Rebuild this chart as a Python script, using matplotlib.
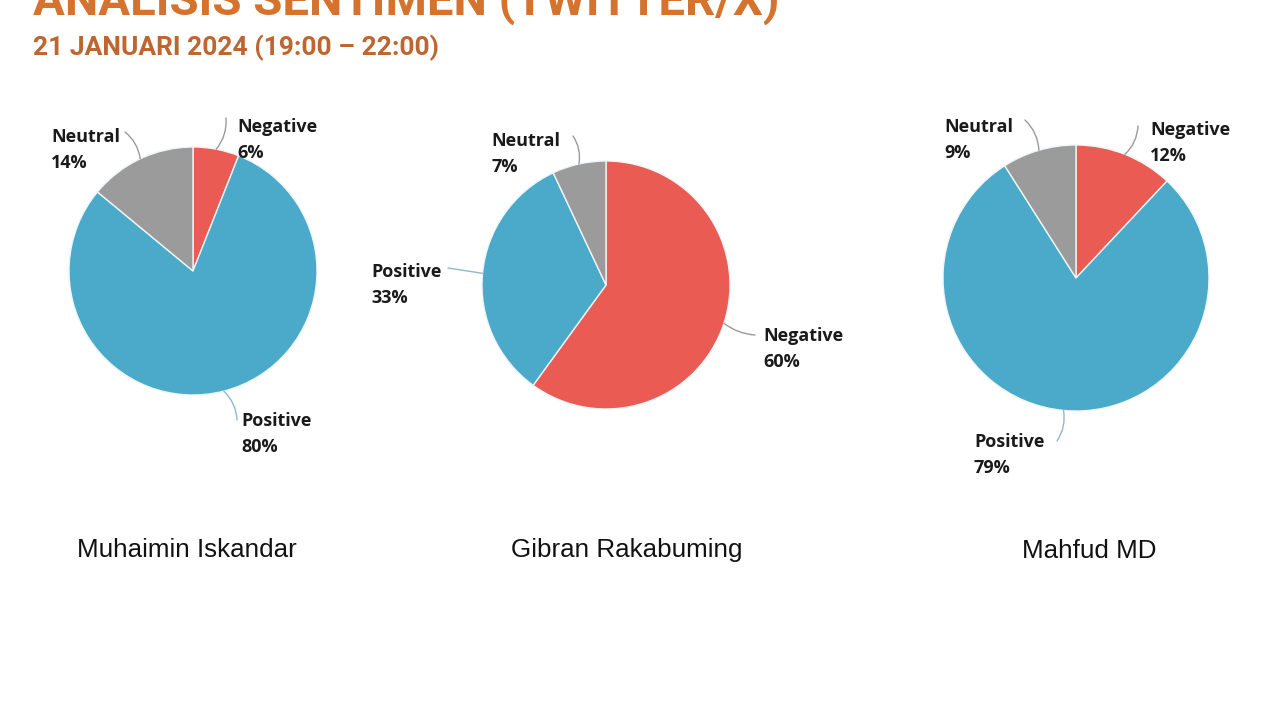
import numpy as np
import matplotlib
matplotlib.use("Agg")
import matplotlib.pyplot as plt

# ---- data ----
title = "ANALISIS SENTIMEN (TWITTER/X)"
subtitle = "21 JANUARI 2024 (19:00 \u2013 22:00)"
names = ["Muhaimin Iskandar", "Gibran Rakabuming", "Mahfud MD"]
categories = ["Negative", "Positive", "Neutral"]
negative = [6, 60, 12]
positive = [80, 33, 79]
neutral = [14, 7, 9]

# ---- style / layout ----
colors = ["#EA5B53", "#4BA9C9", "#9B9B9B"]
W, H = 1280, 720
centers = [(193, 271), (606, 285), (1076, 278)]
radii = [124, 124, 133]
name_pos = [(187, 550), (627, 550), (1089, 551)]
# label anchors (left x, top y) and leader end points, per pie per category
label_xy = [
    [(237, 118), (241, 412), (51, 128)],
    [(763, 327), (371, 263), (491, 132)],
    [(1150, 121), (974, 433), (944, 118)],
]
leader_end = [
    [(226, 118), (237, 420), (125, 132)],
    [(755, 335), (448, 268), (573, 136)],
    [(1138, 126), (1057, 441), (1025, 120)],
]
leader_rad = [
    [-0.2, 0.2, -0.2],
    [-0.15, 0.0, -0.2],
    [-0.2, 0.2, -0.2],
]
label_colors = ["#9a9a9a", "#8fb9c8", "#9a9a9a"]

fig = plt.figure(figsize=(12.8, 7.2), dpi=100)
ax = fig.add_axes([0, 0, 1, 1])

def Y(y):
    return H - y

series = list(zip(negative, positive, neutral))
for i, vals in enumerate(series):
    cx, cy = centers[i]
    r = radii[i]
    wedges, _ = ax.pie(vals, colors=colors, startangle=90, counterclock=False,
                       center=(cx, Y(cy)), radius=r,
                       wedgeprops=dict(edgecolor="#eef6f8", linewidth=1.0))
    total = float(sum(vals))
    for j, w in enumerate(wedges):
        mid = np.deg2rad((w.theta1 + w.theta2) / 2.0)
        sx = cx + r * np.cos(mid)
        sy = Y(cy) + r * np.sin(mid)
        ex, ey = leader_end[i][j]
        ax.annotate("", xy=(sx, sy), xytext=(ex, Y(ey)),
                    arrowprops=dict(arrowstyle="-", color=label_colors[j], lw=1.0,
                                    connectionstyle=f"arc3,rad={leader_rad[i][j]}",
                                    shrinkA=0, shrinkB=0))
        lx, ly = label_xy[i][j]
        pct = int(round(vals[j] / total * 100))
        ax.text(lx, Y(ly), f"{categories[j]}\n{pct}%", ha="left", va="top",
                fontsize=13, fontweight="bold", family="Open Sans",
                color="#1a1a1a", linespacing=1.6)
    nx, ny = name_pos[i]
    ax.text(nx, Y(ny), names[i], ha="center", va="center", fontsize=18.7,
            family="Liberation Sans", color="#111111")

ax.text(33, Y(15), title, ha="left", va="baseline", fontsize=34,
        fontweight="bold", family="Roboto", color="#D4722E")
ax.text(33, Y(55), subtitle, ha="left", va="baseline", fontsize=19,
        fontweight="bold", family="Roboto", color="#BE6530")

ax.set_xlim(0, W)
ax.set_ylim(0, H)
ax.set_aspect("equal")
ax.axis("off")
fig.savefig("out.png", dpi=100, facecolor="white")
